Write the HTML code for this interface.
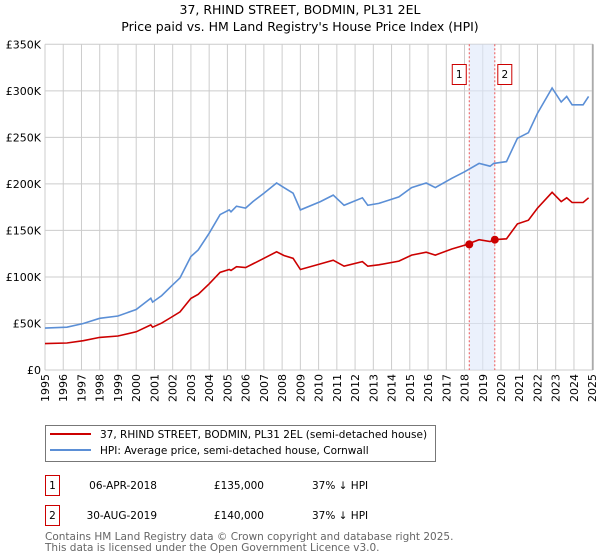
<!DOCTYPE html>
<html><head><meta charset="utf-8"><style>
body{margin:0;background:#fff;width:600px;height:560px;overflow:hidden;font-family:"DejaVu Sans","Liberation Sans",sans-serif;}
svg{position:absolute;left:0;top:0}
</style></head><body>
<svg id="chart" width="600" height="560" xmlns="http://www.w3.org/2000/svg" font-family="DejaVu Sans, Liberation Sans, sans-serif">
<text x="300" y="14" font-size="12.5" text-anchor="middle">37, RHIND STREET, BODMIN, PL31 2EL</text>
<text x="300" y="31" font-size="12.5" text-anchor="middle">Price paid vs. HM Land Registry's House Price Index (HPI)</text>
<g id="grid"></g><g id="marks"></g><g id="axes"></g>
<rect x="45.5" y="425.5" width="390" height="36" fill="#fff" stroke="#777"/>
<line x1="50" y1="434" x2="91" y2="434" stroke="#cc0000" stroke-width="2"/>
<text x="100" y="438" font-size="10.5">37, RHIND STREET, BODMIN, PL31 2EL (semi-detached house)</text>
<line x1="50" y1="450" x2="91" y2="450" stroke="#5b8fd6" stroke-width="2"/>
<text x="100" y="454" font-size="10.5">HPI: Average price, semi-detached house, Cornwall</text>
<g font-size="10.5">
<rect x="45.5" y="475.5" width="14" height="20" fill="#fff" stroke="#cc0000"/>
<text x="52.5" y="489" text-anchor="middle">1</text>
<text x="157" y="489" text-anchor="end">06-APR-2018</text>
<text x="264" y="489" text-anchor="end">£135,000</text>
<text x="312" y="489">37% ↓ HPI</text>
<rect x="45.5" y="505.5" width="14" height="20" fill="#fff" stroke="#cc0000"/>
<text x="52.5" y="519" text-anchor="middle">2</text>
<text x="157" y="519" text-anchor="end">30-AUG-2019</text>
<text x="264" y="519" text-anchor="end">£140,000</text>
<text x="312" y="519">37% ↓ HPI</text>
</g>
<text x="45" y="540" font-size="10.5" fill="#666">Contains HM Land Registry data © Crown copyright and database right 2025.</text>
<text x="45" y="551" font-size="10.5" fill="#666">This data is licensed under the Open Government Licence v3.0.</text>
</svg>
<script>
const years=[1995,1996.2,1997.1,1998,1999,2000,2000.8,2000.9,2001.4,2001.9,2002.4,2003,2003.4,2004,2004.6,2005.1,2005.2,2005.5,2006,2006.4,2007,2007.7,2008.1,2008.6,2009,2010.1,2010.8,2011.4,2012.4,2012.7,2013.3,2014.4,2015.1,2015.9,2016.4,2017.3,2018,2018.8,2019.4,2019.6,2020.3,2020.9,2021.5,2022,2022.8,2023.3,2023.6,2023.9,2024.5,2024.8];
const hpi=[45,46,50,55.6,58,65,77,73,80,89.6,99,122,129,147,167,172,170,176,174,181,190,201,196,190,172,181,188,177,185,177,179,186,196,201,196,206,213,222,219,222,224,249,255,276,303,288,294,285,285,294];
const prop=[28.4,29,31.5,35,36.5,41,48.5,46,50.4,56.4,62.4,76.9,81.3,92.6,105,108,107,111,110,114,120,127,123,120,108,114,118,111.5,116.5,111.5,113,117,123.5,126.6,123.5,130,134,140,138,140,141,157,161,174,191,181,185,180,180,185];
const saleYears=[2018.26,2019.66];
const salePrices=[135,140];
const yTicks=[0,50,100,150,200,250,300,350];
const yLabels=["£0","£50K","£100K","£150K","£200K","£250K","£300K","£350K"];
const xTicks=[1995,1996,1997,1998,1999,2000,2001,2002,2003,2004,2005,2006,2007,2008,2009,2010,2011,2012,2013,2014,2015,2016,2017,2018,2019,2020,2021,2022,2023,2024,2025];
const NS="http://www.w3.org/2000/svg";
const X=y=>45+(y-1995)*18.24;
const Y=v=>370-v*(325.7/350);
function mk(p,t,a){const e=document.createElementNS(NS,t);for(const k in a)e.setAttribute(k,a[k]);p.appendChild(e);return e;}
const grid=document.getElementById('grid'),marks=document.getElementById('marks'),axes=document.getElementById('axes');
yTicks.forEach((v,i)=>{
 const l=mk(grid,'line',{x1:45,x2:593,y1:Y(v),y2:Y(v),stroke:'#ccc'});
 
 
 const t=mk(axes,'text',{x:41,y:Y(v)+4,'font-size':'11','text-anchor':'end'});
 t.textContent=yLabels[i];
 
 
});
xTicks.forEach(y=>{
 const l=mk(grid,'line',{x1:X(y),x2:X(y),y1:Y(350),y2:370,stroke:'#ccc'});
 
 
 const t=mk(axes,'text',{x:0,y:0,'font-size':'11','text-anchor':'end',transform:`translate(${X(y)+4},374) rotate(-90)`});
 t.textContent=y;
 
 
});
const band=mk(marks,'rect',{x:X(saleYears[0]),y:Y(350),width:X(saleYears[1])-X(saleYears[0]),height:370-Y(350),fill:'#dde8fa',opacity:'0.6'});


saleYears.forEach((s,i)=>{
 const l=mk(marks,'line',{x1:X(s),x2:X(s),y1:Y(350),y2:370,stroke:'#e55',  'stroke-dasharray':'2,2'});
 
 
});
const path=(arr,c,name)=>{
 const p=mk(marks,'path',{d:arr.map((v,i)=>(i?'L':'M')+X(years[i]).toFixed(1)+','+Y(v).toFixed(1)).join(''),fill:'none',stroke:c,'stroke-width':'1.6'});
 
 
};
path(hpi,'#5b8fd6','hpi-line');
path(prop,'#cc0000','property-line');
saleYears.forEach((s,i)=>{
 const c=mk(marks,'circle',{cx:X(s),cy:Y(salePrices[i]),r:4,fill:'#cc0000'});
 
 
 const r=mk(marks,'rect',{x:X(s)-(i?-3:17),y:64.5,width:14,height:20,fill:'#fff',stroke:'#cc0000'});
 
 
 const t=mk(marks,'text',{x:X(s)-(i?-10:10),y:78,'font-size':'10.5','text-anchor':'middle'});
 t.textContent=String(i+1);
 
 
});
const ax=mk(axes,'line',{x1:593,x2:593,y1:Y(350),y2:370,stroke:'#888'});


</script>
</body></html>
